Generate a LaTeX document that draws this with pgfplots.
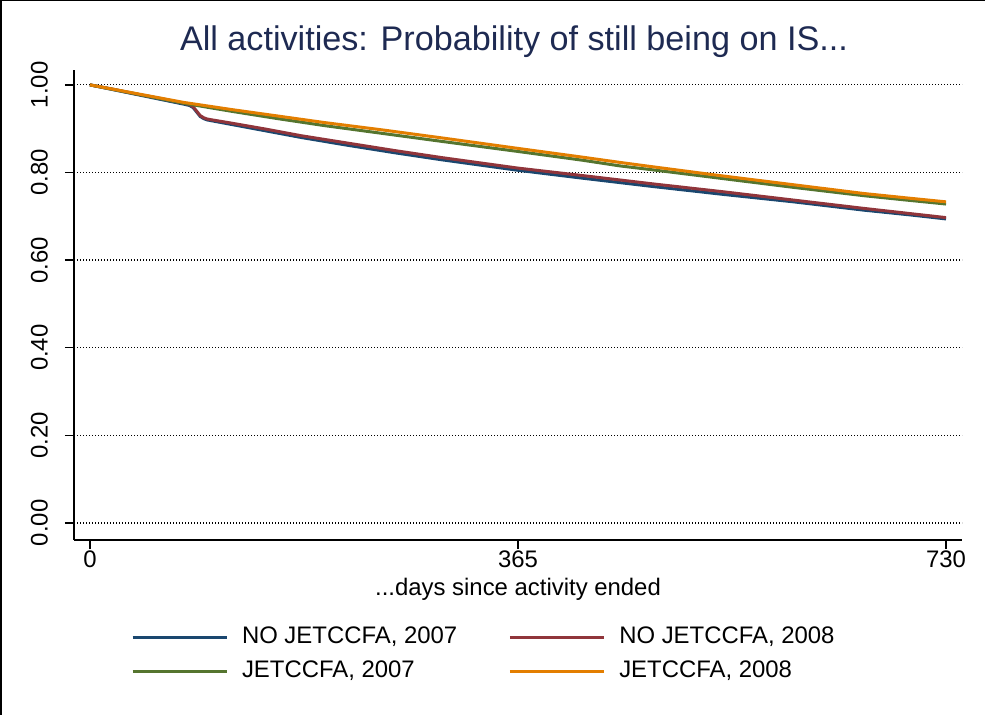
\documentclass[border=0pt]{standalone}
\usepackage{pgfplots}
\pgfplotsset{compat=1.18}
\usepackage{fontspec}
\setmainfont{Liberation Sans}
\definecolor{snavy}{RGB}{26,71,111}
\definecolor{smaroon}{RGB}{144,53,59}
\definecolor{sgreen}{RGB}{85,117,47}
\definecolor{sorange}{RGB}{227,126,0}
\definecolor{titlecol}{RGB}{30,42,82}
\begin{document}
\begin{tikzpicture}
\useasboundingbox (0,0) rectangle (985bp,715bp);
\draw[line width=1.5bp] (0.75bp,0) -- (0.75bp,714.25bp) -- (985bp,714.25bp);
\begin{axis}[
  at={(74bp,175bp)}, anchor=south west,
  scale only axis, width=888bp, height=470bp,
  xmin=-13.6, xmax=743.6, ymin=-0.039, ymax=1.034,
  axis x line*=bottom, axis y line*=left,
  axis line style={-, line width=1.5bp, black},
  xtick={0,365,730}, ytick={0,0.2,0.4,0.6,0.8,1},
  tick align=outside, major tick length=9bp,
  tick style={line width=1.3bp, black},
  /pgf/number format/assume math mode=true,
  ticklabel style={font=\fontsize{24}{28}\selectfont},
  yticklabel={\pgfmathprintnumber[fixed,fixed zerofill,precision=2]{\tick}},
  yticklabel style={rotate=90, anchor=south, inner sep=0pt, yshift=17bp},
  xticklabel style={anchor=north, inner sep=0pt, yshift=-2bp},
  ymajorgrids, grid style={black, line width=1.2bp, dash pattern=on 1.2bp off 1.8bp},
  xlabel={...days since activity ended},
  xlabel style={font=\fontsize{24}{28}\selectfont, at={(axis description cs:0.5,-0.119)}, anchor=base},
  title={All activities: Probability of still being on IS...},
  title style={font=\fontsize{34.3}{40}\selectfont, color=titlecol, at={(axis description cs:0.4955,1.0277)}, anchor=base},
  legend columns=2,
  legend cell align=left,
  legend image code/.code={\draw[#1, line width=3bp] (0bp,0bp) -- (94bp,0bp);},
  legend style={draw=none, fill=none, inner sep=0pt, outer sep=0pt,
    at={(axis description cs:0.0642,-0.183)}, anchor=north west,
    font=\fontsize{24}{28}\selectfont,
    nodes={inner xsep=0pt, inner ysep=0pt, text height=17bp, text depth=5bp},
    row sep=12bp,
    /tikz/every odd column/.append style={column sep=14bp},
    /tikz/every even column/.append style={column sep=51bp}},
]
\addplot[snavy, line width=3bp] coordinates {
(0,1.000) (20,0.989) (40,0.978) (60,0.967) (80,0.956) (85,0.953) (88,0.948) (91,0.938) (94,0.928) (97,0.923) (100,0.920) (120,0.910) (150,0.895) (180,0.880) (220,0.862) (260,0.845) (300,0.829) (365,0.805) (420,0.787) (480,0.768) (540,0.750) (600,0.733) (660,0.714) (700,0.703) (730,0.694)};
\addlegendentry{NO JETCCFA, 2007}
\addplot[smaroon, line width=3bp] coordinates {
(0,1.000) (20,0.990) (40,0.979) (60,0.969) (80,0.958) (85,0.955) (88,0.950) (91,0.940) (94,0.930) (97,0.925) (100,0.922) (120,0.913) (150,0.899) (180,0.884) (220,0.867) (260,0.850) (300,0.834) (365,0.810) (420,0.793) (480,0.774) (540,0.756) (600,0.737) (660,0.718) (700,0.706) (730,0.697)};
\addlegendentry{NO JETCCFA, 2008}
\addplot[sgreen, line width=3bp] coordinates {
(0,1.000) (40,0.979) (80,0.958) (120,0.940) (160,0.923) (200,0.907) (250,0.889) (300,0.871) (365,0.848) (420,0.828) (452,0.815) (480,0.806) (540,0.786) (600,0.766) (660,0.747) (700,0.736) (730,0.728)};
\addlegendentry{JETCCFA, 2007}
\addplot[sorange, line width=3bp] coordinates {
(0,1.000) (40,0.980) (80,0.960) (120,0.944) (160,0.929) (200,0.914) (250,0.897) (300,0.879) (365,0.855) (420,0.835) (452,0.823) (480,0.813) (540,0.792) (600,0.772) (660,0.752) (700,0.741) (730,0.733)};
\addlegendentry{JETCCFA, 2008}
\end{axis}
\end{tikzpicture}
\end{document}
